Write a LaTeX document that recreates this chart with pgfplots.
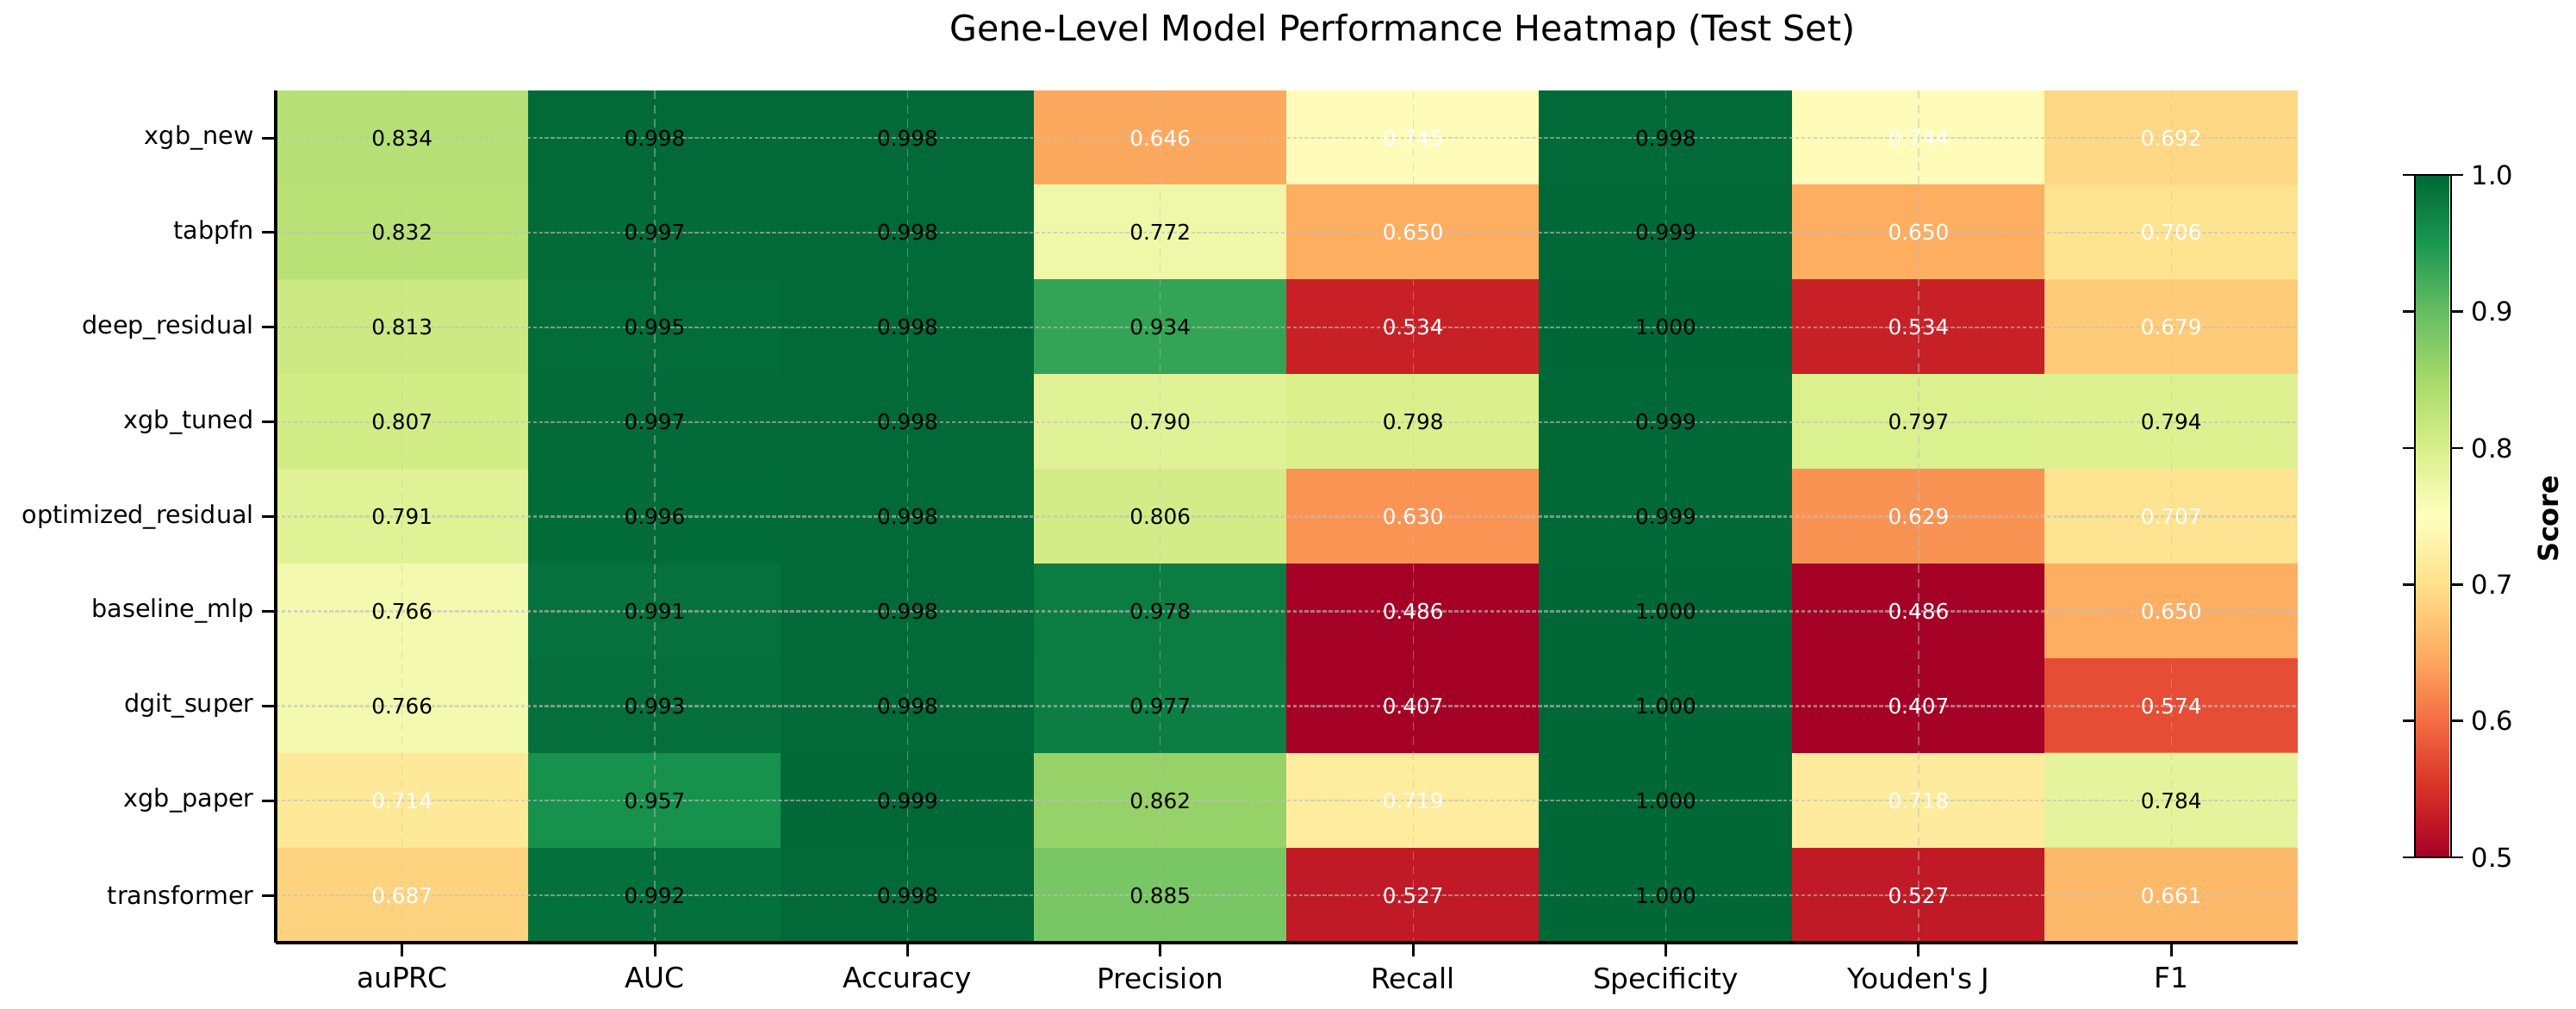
\documentclass[border=0pt]{standalone}
\usepackage{pgfplots}
\usepackage{pgfplotstable}
\pgfplotsset{compat=1.18}
\usepackage{fontspec}
\setmainfont{DejaVu Sans}[Ligatures=TeXOff]
\pgfplotsset{/pgf/number format/assume math mode=true}

\pgfplotstableread{
x y v
0 0 0.834
1 0 0.998
2 0 0.998
3 0 0.646
4 0 0.745
5 0 0.998
6 0 0.744
7 0 0.692
0 1 0.832
1 1 0.997
2 1 0.998
3 1 0.772
4 1 0.650
5 1 0.999
6 1 0.650
7 1 0.706
0 2 0.813
1 2 0.995
2 2 0.998
3 2 0.934
4 2 0.534
5 2 1.000
6 2 0.534
7 2 0.679
0 3 0.807
1 3 0.997
2 3 0.998
3 3 0.790
4 3 0.798
5 3 0.999
6 3 0.797
7 3 0.794
0 4 0.791
1 4 0.996
2 4 0.998
3 4 0.806
4 4 0.630
5 4 0.999
6 4 0.629
7 4 0.707
0 5 0.766
1 5 0.991
2 5 0.998
3 5 0.978
4 5 0.486
5 5 1.000
6 5 0.486
7 5 0.650
0 6 0.766
1 6 0.993
2 6 0.998
3 6 0.977
4 6 0.407
5 6 1.000
6 6 0.407
7 6 0.574
0 7 0.714
1 7 0.957
2 7 0.999
3 7 0.862
4 7 0.719
5 7 1.000
6 7 0.718
7 7 0.784
0 8 0.687
1 8 0.992
2 8 0.998
3 8 0.885
4 8 0.527
5 8 1.000
6 8 0.527
7 8 0.661
}\heat

\begin{document}
\begin{tikzpicture}
\useasboundingbox (-115.2pt,-27.36pt) rectangle (961.2pt,393.84pt);
\begin{axis}[
  at={(0,0)}, anchor=south west,
  width=844.9pt, height=356pt, scale only axis,
  xmin=-0.5, xmax=7.5, ymin=-0.5, ymax=8.5,
  y dir=reverse,
  axis x line*=bottom, axis y line*=left,
  axis line style={black, line width=1.1pt},
  axis on top,
  xtick={0,...,7}, ytick={0,...,8},
  xticklabels={auPRC,AUC,Accuracy,Precision,Recall,Specificity,Youden's J,F1},
  yticklabels={xgb\_new,tabpfn,deep\_residual,xgb\_tuned,optimized\_residual,baseline\_mlp,dgit\_super,xgb\_paper,transformer},
  x tick label style={font=\fontsize{11.8}{13}\selectfont, yshift=-1pt},
  y tick label style={font=\fontsize{10.3}{12}\selectfont},
  tick align=outside,
  major tick length=5.6pt,
  every tick/.style={black, line width=1.1pt},
  xmajorgrids, ymajorgrids,
  x grid style={draw=lightgray, opacity=0.45, line width=0.45pt, dash pattern=on 3.6pt off 2.4pt},
  y grid style={draw=lightgray, opacity=0.6, line width=0.85pt, dash pattern=on 1.6pt off 0.9pt},
  colormap={RdYlGn}{rgb255=(165,0,38) rgb255=(215,48,39) rgb255=(244,109,67) rgb255=(253,174,97) rgb255=(254,224,139) rgb255=(255,255,191) rgb255=(217,239,139) rgb255=(166,217,106) rgb255=(102,189,99) rgb255=(26,152,80) rgb255=(0,104,55)},
  point meta min=0.5, point meta max=1.0,
  colorbar,
  colorbar style={
    at={(1.058,0.1)}, anchor=south west,
    width=15.1pt, height=285.1pt,
    ytick={0.5,0.6,0.7,0.8,0.9,1.0},
    yticklabel pos=right,
    yticklabel style={font=\fontsize{11}{13}\selectfont, /pgf/number format/.cd, fixed, fixed zerofill, precision=1},
    axis line style={black, line width=0.9pt},
    major tick length=5pt,
    every tick/.style={black, line width=0.9pt},
    tick align=outside,
    ylabel={\textbf{Score}},
    ylabel style={font=\fontsize{11.5}{13}\selectfont, at={(axis description cs:3.69,0.496)}, anchor=center},
  },
  title={Gene-Level Model Performance Heatmap (Test Set)},
  title style={font=\fontsize{14.8}{17}\selectfont, at={(0.5573,1)}, anchor=base, yshift=14.9pt},
]
\addplot[matrix plot*, mesh/cols=8, point meta=explicit] table[x=x, y=y, meta=v]{\heat};
\addplot[draw=none, mark=none, point meta=explicit,
  restrict expr to domain={\thisrow{v}}{0.75:2},
  nodes near coords={\pgfmathprintnumber[fixed,fixed zerofill,precision=3]{\pgfplotspointmeta}},
  nodes near coords align=center,
  every node near coord/.append style={font=\fontsize{8.9}{10}\selectfont, text=black, anchor=center, inner sep=0pt}
] table[x=x, y=y, meta=v]{\heat};
\addplot[draw=none, mark=none, point meta=explicit,
  restrict expr to domain={\thisrow{v}}{0:0.75},
  nodes near coords={\pgfmathprintnumber[fixed,fixed zerofill,precision=3]{\pgfplotspointmeta}},
  nodes near coords align=center,
  every node near coord/.append style={font=\fontsize{8.9}{10}\selectfont, text=white, anchor=center, inner sep=0pt}
] table[x=x, y=y, meta=v]{\heat};
\end{axis}
\end{tikzpicture}
\end{document}
